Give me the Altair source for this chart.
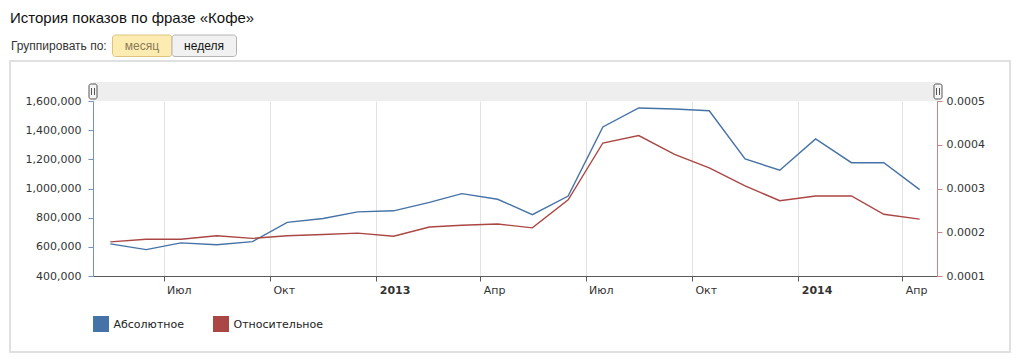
import json
import altair as alt
import pandas as pd

# ---------------- data ----------------
MONTHS = [
    "2012-05-16", "2012-06-16", "2012-07-16", "2012-08-16", "2012-09-16", "2012-10-16",
    "2012-11-16", "2012-12-16", "2013-01-16", "2013-02-16", "2013-03-16", "2013-04-16",
    "2013-05-16", "2013-06-16", "2013-07-16", "2013-08-16", "2013-09-16", "2013-10-16",
    "2013-11-16", "2013-12-16", "2014-01-16", "2014-02-16", "2014-03-16", "2014-04-16",
]
ABSOLUTE = [
    620000, 581000, 627000, 614000, 636000, 768000,
    794000, 840000, 847000, 905000, 965000, 926000,
    821000, 948000, 1422000, 1552000, 1545000, 1533000,
    1203000, 1125000, 1340000, 1177000, 1177000, 992000,
]
RELATIVE = [
    0.000178, 0.000184, 0.000184, 0.000192, 0.000186, 0.000192,
    0.000195, 0.000198, 0.000191, 0.000212, 0.000216, 0.000219,
    0.000210, 0.000274, 0.000404, 0.000421, 0.000378, 0.000347,
    0.000306, 0.000272, 0.000283, 0.000283, 0.000241, 0.000230,
]
SERIES = ["Абсолютное", "Относительное"]
COLORS = ["#4572A7", "#AA4643"]
TICK_DATES = ["2012-07-01", "2012-10-01", "2013-01-01", "2013-04-01",
              "2013-07-01", "2013-10-01", "2014-01-01", "2014-04-01"]
MONTH_LABELS = ["Янв", "Фев", "Мар", "Апр", "Май", "Июн",
                "Июл", "Авг", "Сен", "Окт", "Ноя", "Дек"]
X_DOMAIN = ["2012-05-01", "2014-05-01"]
ABS_DOMAIN = [400000, 1600000]
ABS_TICKS = [400000, 600000, 800000, 1000000, 1200000, 1400000, 1600000]
REL_DOMAIN = [0.0001, 0.0005]
REL_TICKS = [0.0001, 0.0002, 0.0003, 0.0004, 0.0005]
TITLE = "История показов по фразе «Кофе»"
GROUP_LABEL = "Группировать по:"
BUTTONS = ["месяц", "неделя"]

df = pd.DataFrame({"date": MONTHS, "abs": ABSOLUTE, "rel": RELATIVE})
one = pd.DataFrame({"k": [0]})


def dt(s):
    y, m, d = (int(v) for v in s.split("-"))
    return alt.DateTime(year=y, month=m, date=d, utc=True)


label_expr = ("utcmonth(datum.value)==0 ? utcFormat(datum.value,'%Y') : "
              + json.dumps(MONTH_LABELS, ensure_ascii=False) + "[utcmonth(datum.value)]")

x_enc = alt.X(
    "date:T",
    scale=alt.Scale(type="utc", domain=[dt(s) for s in X_DOMAIN], nice=False),
    axis=alt.Axis(
        title=None, values=[dt(s) for s in TICK_DATES], labelExpr=label_expr,
        labelAlign="left", labelOffset=3, labelPadding=3, labelBaseline="top",
        labelFontWeight={"condition": {"test": "utcmonth(datum.value)==0", "value": "bold"},
                         "value": "normal"},
        grid=True, gridColor="#e2e2e2", gridWidth=1,
        domainColor="#5a5a5a", tickColor="#5a5a5a", tickSize=5,
    ),
)

base = alt.Chart(df)
abs_line = base.mark_line(color=COLORS[0], strokeWidth=1.4).encode(
    x=x_enc,
    y=alt.Y("abs:Q", scale=alt.Scale(domain=ABS_DOMAIN, nice=False, zero=False),
            axis=alt.Axis(title=None, orient="left", values=ABS_TICKS,
                          labelExpr="format(datum.value, ',d')",
                          domainColor="#7393c6", tickColor="#7393c6", tickSize=5,
                          labelPadding=7, grid=False)),
)
rel_line = base.mark_line(color=COLORS[1], strokeWidth=1.4).encode(
    x=x_enc,
    y=alt.Y("rel:Q", scale=alt.Scale(domain=REL_DOMAIN, nice=False, zero=False),
            axis=alt.Axis(title=None, orient="right", values=REL_TICKS,
                          labelExpr="format(datum.value, '.4f')",
                          domainColor="#c98584", tickColor="#c98584", tickSize=5,
                          labelPadding=4, grid=False)),
)

d = alt.Chart(one)


def box(x1, x2, y1, y2, **kw):
    return d.mark_rect(**kw).encode(x=alt.value(x1), x2=alt.value(x2),
                                     y=alt.value(y1), y2=alt.value(y2))


def txt(s, x, y, **kw):
    return d.mark_text(baseline="alphabetic", **kw).encode(
        x=alt.value(x), y=alt.value(y), text=alt.value(s))


def vline(x, y1, y2, color):
    return d.mark_rule(color=color, strokeWidth=1).encode(
        x=alt.value(x), y=alt.value(y1), y2=alt.value(y2))


frame = box(-83, 917, -40, 251, fillOpacity=0, stroke="#e0e0e0", strokeWidth=2)
band = box(0, 845, -19, 0, fill="#eeeeee")
h_left = box(-4, 4, -17, -2, fill="#f5f5f5", stroke="#555555", strokeWidth=1, cornerRadius=2)
h_right = box(841, 849, -17, -2, fill="#f5f5f5", stroke="#555555", strokeWidth=1, cornerRadius=2)
h_lines = [vline(-1.5, -13, -6, "#555555"), vline(1.5, -13, -6, "#555555"),
           vline(843.5, -13, -6, "#555555"), vline(846.5, -13, -6, "#555555")]

title = txt(TITLE, -83, -78, align="left", font="Liberation Sans", fontSize=15, color="#111111")
group = txt(GROUP_LABEL, -82, -51, align="left", font="Liberation Sans", fontSize=12, color="#333333")
btn1 = box(19.5, 79, -66, -44.5, fill="#fdecb2", stroke="#dcc47e", strokeWidth=1, cornerRadius=3)
btn2 = box(79, 143.5, -66, -44.5, fill="#f1f1f1", stroke="#b3b3b3", strokeWidth=1, cornerRadius=3)
btn1_t = txt(BUTTONS[0], 49, -51, align="center", font="Liberation Sans", fontSize=12, color="#8a7b55")
btn2_t = txt(BUTTONS[1], 111, -51, align="center", font="Liberation Sans", fontSize=12, color="#111111")

leg1 = box(0, 16, 215, 231, fill=COLORS[0])
leg2 = box(120, 136, 215, 231, fill=COLORS[1])
leg1_t = txt(SERIES[0], 20.5, 226.5, align="left", font="DejaVu Sans", fontSize=11, color="#222222")
leg2_t = txt(SERIES[1], 140.5, 226.5, align="left", font="DejaVu Sans", fontSize=11, color="#222222")

chart = alt.layer(
    frame, band, abs_line, rel_line, h_left, h_right, *h_lines,
    title, group, btn1, btn2, btn1_t, btn2_t, leg1, leg2, leg1_t, leg2_t,
).resolve_scale(y="independent").properties(
    width=844, height=175,
    autosize=alt.AutoSizeParams(type="none"),
    padding={"left": 93, "top": 101, "right": 87, "bottom": 87},
    background="white",
).configure_view(stroke=None).configure_axis(
    labelFont="DejaVu Sans", labelFontSize=11, labelColor="#333333",
)

chart.save("out.html", embed_options={"renderer": "svg", "actions": False})
